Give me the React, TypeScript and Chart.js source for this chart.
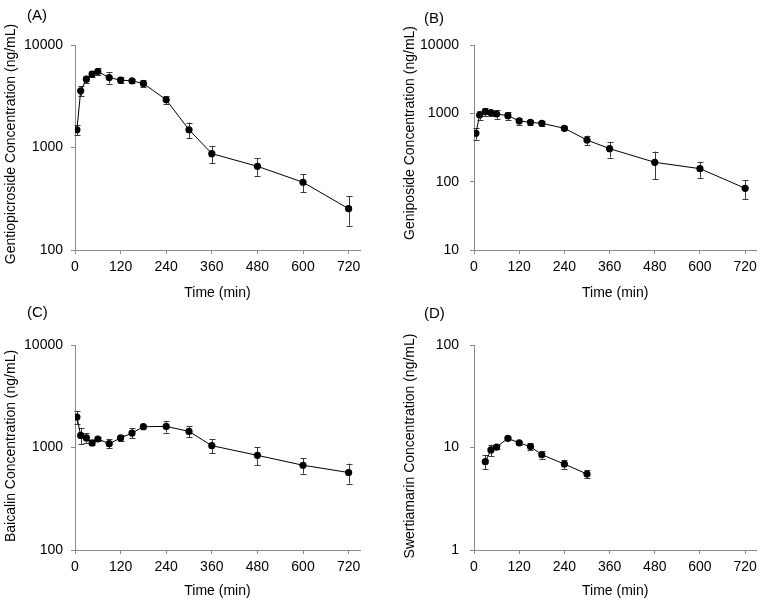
import React, { useEffect, useRef } from 'react';
import { Chart, registerables } from 'chart.js';

Chart.register(...registerables);

// ---- data ----
const timesABC = [5, 15, 30, 45, 60, 90, 120, 150, 180, 240, 300, 360, 480, 600, 720];
const gentiopicroside = [1490, 3570, 4640, 5190, 5510, 4810, 4540, 4470, 4210, 2920, 1490, 871, 656, 458, 253];
const gentiopicrosideSD = [180, 400, 380, 350, 450, 600, 300, 180, 360, 270, 260, 167, 127, 90, 80];
const geniposide = [510, 945, 1057, 1023, 977, 925, 773, 738, 714, 604, 407, 304, 192, 155, 80];
const geniposideSD = [100, 140, 145, 100, 145, 120, 90, 55, 55, 40, 66, 79, 84, 41, 25];
const baicalin = [1980, 1313, 1239, 1107, 1211, 1089, 1239, 1384, 1595, 1607, 1436, 1042, 839, 671, 570];
const baicalinSD = [300, 240, 140, 40, 50, 110, 90, 150, 60, 210, 180, 160, 170, 115, 125];
const timesD = [30, 45, 60, 90, 120, 150, 180, 240, 300];
const swertiamarin = [7.27, 9.46, 10.1, 12.3, 11.1, 10.2, 8.5, 6.9, 5.51];
const swertiamarinSD = [1.1, 1.2, 0.4, 0.5, 0.6, 0.8, 0.7, 0.7, 0.5];

const xTickValues = [0, 120, 240, 360, 480, 600, 720];
const xMax = 750;
const yTicksA = [100, 1000, 10000];
const yTicksB = [10, 100, 1000, 10000];
const yTicksD = [1, 10, 100];

const xTitle = 'Time (min)';

const FONT = "'Liberation Sans', Arial, sans-serif";
const AXIS_COLOR = '#8a8a8a';

type Panel = {
  key: string;
  label: string;
  left: number;
  top: number;
  labelLeft: number;
  labelTop: number;
  times: number[];
  values: number[];
  sd: number[];
  yMin: number;
  yMax: number;
  yTicks: number[];
  yTitle: string;
  yTitleX: number;
  yTitleY: number;
  yWidth: number;
  padRight: number;
  yTickPad: number;
  xTitlePadBottom: number;
};

const panels: Panel[] = [
  {
    key: 'A', label: '(A)', left: 0, top: 0, labelLeft: 27, labelTop: 7,
    times: timesABC, values: gentiopicroside, sd: gentiopicrosideSD,
    yMin: 100, yMax: 10000, yTicks: yTicksA,
    yTitle: 'Gentiopicroside Concentration (ng/mL)', yTitleX: 11, yTitleY: 144,
    yWidth: 75, padRight: 21, yTickPad: 8, xTitlePadBottom: 0,
  },
  {
    key: 'B', label: '(B)', left: 381, top: 0, labelLeft: 424, labelTop: 10,
    times: timesABC, values: geniposide, sd: geniposideSD,
    yMin: 10, yMax: 10000, yTicks: yTicksB,
    yTitle: 'Geniposide Concentration (ng/mL)', yTitleX: 29, yTitleY: 133,
    yWidth: 93, padRight: 4, yTickPad: 11, xTitlePadBottom: 0,
  },
  {
    key: 'C', label: '(C)', left: 0, top: 300, labelLeft: 27, labelTop: 4,
    times: timesABC, values: baicalin, sd: baicalinSD,
    yMin: 100, yMax: 10000, yTicks: yTicksA,
    yTitle: 'Baicalin Concentration (ng/mL)', yTitleX: 11, yTitleY: 146,
    yWidth: 75, padRight: 21, yTickPad: 8, xTitlePadBottom: 2,
  },
  {
    key: 'D', label: '(D)', left: 381, top: 300, labelLeft: 424, labelTop: 5,
    times: timesD, values: swertiamarin, sd: swertiamarinSD,
    yMin: 1, yMax: 100, yTicks: yTicksD,
    yTitle: 'Swertiamarin Concentration (ng/mL)', yTitleX: 29, yTitleY: 146,
    yWidth: 93, padRight: 4, yTickPad: 11, xTitlePadBottom: 2,
  },
];

const errorBarsPlugin = {
  id: 'errorBars',
  beforeDatasetsDraw(chart: any, _args: any, opts: any) {
    const { ctx, scales } = chart;
    const x = scales.x;
    const y = scales.y;
    const sd: number[] = opts.sd || [];
    const ds = chart.data.datasets[0];
    ctx.save();
    ctx.strokeStyle = '#3c3c3c';
    ctx.lineWidth = 1;
    ds.data.forEach((p: any, i: number) => {
      const e = sd[i];
      if (e == null) return;
      const px = Math.round(x.getPixelForValue(p.x)) + 0.5;
      const yt = y.getPixelForValue(p.y + e);
      const yb = y.getPixelForValue(Math.max(p.y - e, y.min * 0.5));
      ctx.beginPath();
      ctx.moveTo(px, yt);
      ctx.lineTo(px, yb);
      ctx.moveTo(px - 3, Math.round(yt) + 0.5);
      ctx.lineTo(px + 3, Math.round(yt) + 0.5);
      ctx.moveTo(px - 3, Math.round(yb) + 0.5);
      ctx.lineTo(px + 3, Math.round(yb) + 0.5);
      ctx.stroke();
    });
    ctx.restore();
  },
};

const yTitlePlugin = {
  id: 'yTitleText',
  afterDraw(chart: any, _args: any, opts: any) {
    const { ctx } = chart;
    ctx.save();
    ctx.translate(opts.x, opts.y);
    ctx.rotate(-Math.PI / 2);
    ctx.font = `14px ${FONT}`;
    ctx.fillStyle = '#000';
    ctx.textAlign = 'center';
    ctx.textBaseline = 'middle';
    ctx.fillText(opts.text, 0, 0);
    ctx.restore();
  },
};

function PanelChart({ p }: { p: Panel }) {
  const ref = useRef<HTMLCanvasElement | null>(null);
  useEffect(() => {
    if (!ref.current) return;
    const chart = new Chart(ref.current, {
      type: 'line',
      data: {
        datasets: [
          {
            data: p.times.map((t, i) => ({ x: t, y: p.values[i] })),
            borderColor: '#000',
            borderWidth: 1,
            backgroundColor: '#000',
            pointBackgroundColor: '#000',
            pointBorderWidth: 0,
            pointRadius: 3.6,
            tension: 0,
            fill: false,
          },
        ],
      },
      options: {
        animation: false,
        responsive: false,
        events: [],
        layout: { padding: { left: 0, top: 45, right: p.padRight, bottom: 0 } },
        plugins: {
          legend: { display: false },
          tooltip: { enabled: false },
          title: { display: false },
          errorBars: { sd: p.sd },
          yTitleText: { text: p.yTitle, x: p.yTitleX, y: p.yTitleY },
        } as any,
        scales: {
          x: {
            type: 'linear',
            min: 0,
            max: xMax,
            afterBuildTicks: (scale: any) => {
              scale.ticks = xTickValues.map((v) => ({ value: v }));
            },
            afterFit: (scale: any) => {
              scale.height = 50;
            },
            ticks: {
              color: '#000',
              font: { family: FONT, size: 14 },
              padding: 5,
              maxRotation: 0,
              autoSkip: false,
              callback: (v: any) => String(v),
            },
            grid: { drawOnChartArea: false, drawTicks: true, tickLength: 4, color: AXIS_COLOR },
            border: { color: AXIS_COLOR, width: 1 },
            title: {
              display: true,
              text: xTitle,
              color: '#000',
              font: { family: FONT, size: 14, lineHeight: 1 },
              padding: { top: 0, bottom: p.xTitlePadBottom },
            },
          },
          y: {
            type: 'logarithmic',
            min: p.yMin,
            max: p.yMax,
            afterBuildTicks: (scale: any) => {
              scale.ticks = p.yTicks.map((v) => ({ value: v }));
            },
            afterFit: (scale: any) => {
              scale.width = p.yWidth;
            },
            ticks: {
              color: '#000',
              font: { family: FONT, size: 14 },
              padding: p.yTickPad,
              autoSkip: false,
              callback: (v: any) => String(v),
            },
            grid: { drawOnChartArea: false, drawTicks: true, tickLength: 4, color: AXIS_COLOR },
            border: { color: AXIS_COLOR, width: 1 },
            title: { display: false },
          },
        },
      },
      plugins: [errorBarsPlugin, yTitlePlugin],
    } as any);
    return () => chart.destroy();
  }, [p]);

  return (
    <div style={{ position: 'absolute', left: p.left, top: p.top, width: 381, height: 300 }}>
      <canvas ref={ref} width={381} height={300} style={{ display: 'block' }} />
      <div
        style={{
          position: 'absolute',
          left: p.labelLeft - p.left,
          top: p.labelTop,
          font: `15px ${FONT}`,
          lineHeight: '15px',
          color: '#000',
          whiteSpace: 'nowrap',
        }}
      >
        {p.label}
      </div>
    </div>
  );
}

export default function App() {
  return (
    <div
      style={{
        position: 'absolute',
        left: 0,
        top: 0,
        width: 762,
        height: 602,
        background: '#fff',
        overflow: 'hidden',
      }}
    >
      {panels.map((p) => (
        <PanelChart key={p.key} p={p} />
      ))}
    </div>
  );
}
